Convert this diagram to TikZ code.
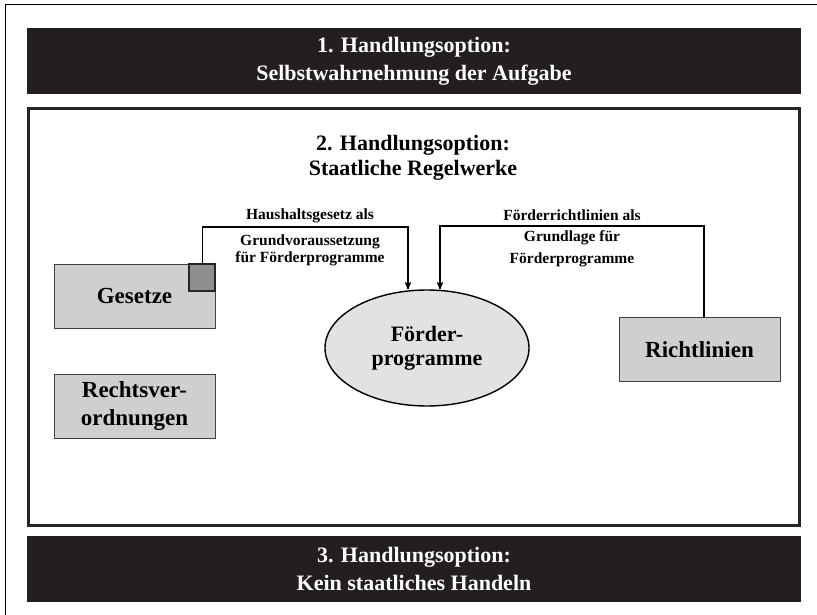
\documentclass[tikz,border=0pt]{standalone}
\usepackage{fontspec}
\setmainfont{Liberation Serif}
\usetikzlibrary{arrows,shapes.geometric}

\definecolor{barcol}{HTML}{231F20}
\definecolor{boxcol}{HTML}{CFCFCF}
\definecolor{knopfcol}{HTML}{8F8F8F}
\definecolor{progcol}{HTML}{E2E2E2}

\begin{document}
\begin{tikzpicture}[x=1pt,y=-1pt,->,>=stealth',line width=1.4pt,
  bar node/.style={rectangle,fill=barcol,draw=none,minimum width=774pt,minimum height=66pt,inner sep=0pt,
    text=white,align=center,font=\fontsize{22}{28}\selectfont\bfseries},
  rec node/.style={rectangle,fill=boxcol,draw=black!75,line width=0.9pt,minimum width=161pt,minimum height=64pt,
    inner sep=0pt,align=center,font=\fontsize{23}{28.5}\selectfont\bfseries},
  main node/.style={ellipse,fill=progcol,draw=black,line width=1.4pt,minimum width=204pt,minimum height=116pt,
    inner sep=0pt,align=center,font=\fontsize{22}{24}\selectfont\bfseries},
  label node/.style={inner sep=0pt,align=center,font=\fontsize{15.5}{17}\selectfont\bfseries}]

  \useasboundingbox (0,0) rectangle (817,615);
  \draw[-,line width=1pt] (817,5) -- (5,5) -- (5,615);

  % die drei Handlungsoptionen
  \node[bar node] (bar1) at (414,61) {1. Handlungsoption:\\ Selbstwahrnehmung der Aufgabe};
  \node[rectangle,draw=black!85,fill=white,line width=3pt,minimum width=771pt,minimum height=417pt,inner sep=0pt]
    (box2) at (414,317) {};
  \node[bar node] (bar3) at (414,568.5) {3. Handlungsoption:\\ Kein staatliches Handeln};
  \node[label node,font=\fontsize{22}{24.5}\selectfont\bfseries] (titel2) at (413,158)
    {2. Handlungsoption:\\ Staatliche Regelwerke};

  \node[rec node] (ges) at (134.5,296) {Gesetze};
  \node[rec node,minimum width=26pt,minimum height=27pt,fill=knopfcol,draw=black!85,line width=2pt]
    (knopf) at ([xshift=-13pt,yshift=-13.5pt]ges.north east) {};
  \node[rec node] (rvo) at (134.5,406) {Rechtsver-\\ ordnungen};
  \node[rec node] (richt) at (699.5,349.5) {Richtlinien};
  \node[main node] (prog) at (427,348) {F\"order-\\ programme};

  \coordinate (k1) at (408,227);
  \coordinate (k2) at (440,226);

  \draw (knopf.north) |- (k1) -- (k1 |- prog.north);
  \draw ([xshift=4.5pt]richt.north) |- (k2) -- (k2 |- prog.north);

  \node[label node,anchor=base] (l1a) at (310,219) {Haushaltsgesetz als};
  \node[label node] (l1b) at (310,250) {Grundvoraussetzung\\ f\"ur F\"orderprogramme};
  \node[label node,anchor=base] (l2a) at (572,220) {F\"orderrichtlinien als};
  \node[label node,font=\fontsize{15.5}{22.5}\selectfont\bfseries] (l2b) at (572,249)
    {Grundlage f\"ur\\ F\"orderprogramme};

\end{tikzpicture}
\end{document}
